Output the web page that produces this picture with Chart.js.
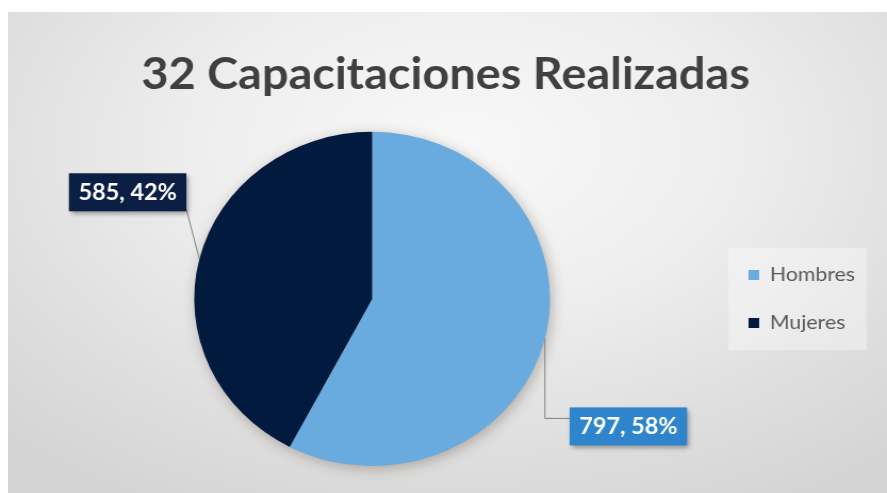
<!DOCTYPE html>
<html>
<head>
<meta charset="utf-8">
<script src="https://cdn.jsdelivr.net/npm/chart.js@4.4.1/dist/chart.umd.min.js"></script>
<style>
  html, body { margin: 0; padding: 0; background: #ffffff; overflow: hidden; }
  #wrap { position: relative; width: 887px; height: 493px; }
  #panel {
    position: absolute; left: 8px; top: 12px; width: 879px; height: 481px;
    background: radial-gradient(ellipse 75% 85% at 52% 28%, #f8f8f8 0%, #eeeeee 40%, #dedede 75%, #d4d4d4 100%);
  }
  #c { position: absolute; left: 0; top: 0; transform-origin: 0 0; transform: scaleX(1.0648); }
</style>
</head>
<body>
<div id="wrap">
  <div id="panel"></div>
  <canvas id="c" width="833" height="493"></canvas>
</div>
<script>
const categories = ['Hombres', 'Mujeres'];
const values = [797, 585];
const titleText = '32 Capacitaciones Realizadas';
const sliceColors = ['#6aabdf', '#011a3e'];
const labelBoxColors = ['#2e85cb', '#0b1f44'];

// placement of the value callouts, in units of the pie radius (style only)
const calloutPlacement = [
  { dx: 1.44, dy: 0.763, elbow: true },
  { dx: -1.374, dy: -0.638, elbow: false }
];

const total = values.reduce((a, b) => a + b, 0);

const pieShadow = {
  id: 'pieShadow',
  beforeDatasetsDraw(chart) {
    const arc = chart.getDatasetMeta(0).data[0];
    if (!arc) return;
    const ctx = chart.ctx;
    ctx.save();
    ctx.shadowColor = 'rgba(60,40,20,0.35)';
    ctx.shadowBlur = 14;
    ctx.shadowOffsetX = 2;
    ctx.shadowOffsetY = 3;
    ctx.fillStyle = '#999999';
    ctx.beginPath();
    ctx.arc(arc.x, arc.y, arc.outerRadius - 1, 0, Math.PI * 2);
    ctx.fill();
    ctx.restore();
  }
};

const legendPanel = {
  id: 'legendPanel',
  beforeDraw(chart) {
    const lg = chart.legend;
    if (!lg || !lg.legendHitBoxes || !lg.legendHitBoxes.length) return;
    const hb = lg.legendHitBoxes;
    const top = hb[0].top - 17;
    const bottom = hb[hb.length - 1].top + hb[hb.length - 1].height + 17;
    const ctx = chart.ctx;
    ctx.save();
    ctx.fillStyle = 'rgba(255,255,255,0.35)';
    ctx.fillRect(lg.left + 9, top, lg.right - lg.left - 8, bottom - top);
    ctx.restore();
  }
};

const callouts = {
  id: 'callouts',
  afterDatasetsDraw(chart) {
    const meta = chart.getDatasetMeta(0);
    const ctx = chart.ctx;
    ctx.save();
    ctx.font = 'bold 22px Lato';
    meta.data.forEach((arc, i) => {
      const p = calloutPlacement[i];
      const r = arc.outerRadius;
      const mid = (arc.startAngle + arc.endAngle) / 2;
      const ax = arc.x + Math.cos(mid) * r;
      const ay = arc.y + Math.sin(mid) * r;
      const pct = Math.round(values[i] / total * 100);
      const text = values[i] + ', ' + pct + '%';
      const tw = ctx.measureText(text).width;
      const bw = tw + 18, bh = 38;
      const cx = arc.x + p.dx * r, cy = arc.y + p.dy * r;
      const bx = cx - bw / 2, by = cy - bh / 2;
      // leader line
      ctx.strokeStyle = '#808080';
      ctx.lineWidth = 1;
      ctx.beginPath();
      ctx.moveTo(ax, ay);
      if (p.elbow) {
        ctx.lineTo(ax, by + 11);
        ctx.lineTo(bx, by + 11);
      } else {
        ctx.lineTo(bx + bw, by + bh - 2);
      }
      ctx.stroke();
      // box
      ctx.save();
      ctx.shadowColor = 'rgba(0,0,0,0.4)';
      ctx.shadowBlur = 5;
      ctx.shadowOffsetX = 2;
      ctx.shadowOffsetY = 3;
      ctx.fillStyle = labelBoxColors[i];
      ctx.fillRect(bx, by, bw, bh);
      ctx.restore();
      ctx.fillStyle = '#ffffff';
      ctx.textAlign = 'center';
      ctx.textBaseline = 'middle';
      ctx.fillText(text, cx, cy + 1);
    });
    ctx.restore();
  }
};

new Chart(document.getElementById('c'), {
  type: 'pie',
  data: {
    labels: categories,
    datasets: [{
      data: values,
      backgroundColor: sliceColors,
      borderWidth: 0,
      hoverOffset: 0
    }]
  },
  options: {
    responsive: false,
    animation: false,
    events: [],
    layout: { padding: { left: 24, right: 20, top: 0, bottom: 27 } },
    plugins: {
      title: {
        display: true,
        text: titleText,
        color: '#404040',
        font: { family: 'Lato', size: 44, weight: 'bold' },
        padding: { top: 48, bottom: 31 }
      },
      legend: {
        position: 'right',
        fullSize: false,
        labels: {
          color: '#595959',
          font: { family: 'Lato', size: 20 },
          boxWidth: 10,
          boxHeight: 10,
          padding: 28
        }
      },
      tooltip: { enabled: false }
    }
  },
  plugins: [pieShadow, legendPanel, callouts]
});
</script>
</body>
</html>
